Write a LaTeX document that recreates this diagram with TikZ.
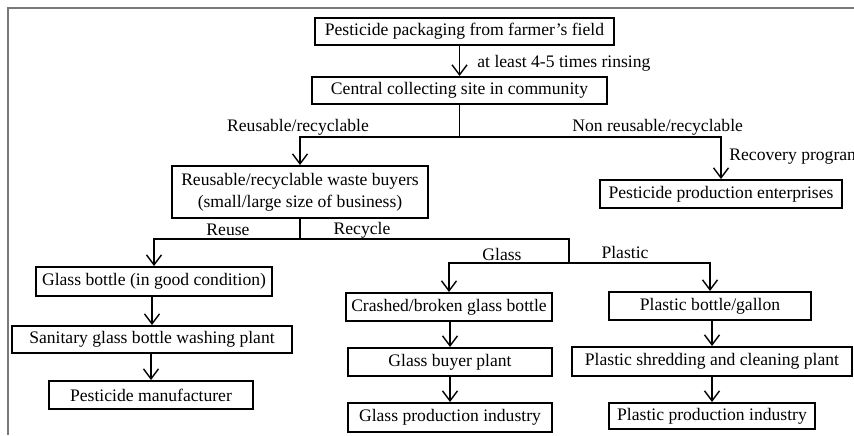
\documentclass[tikz,border=0pt]{standalone}
\usepackage{fontspec}
\setmainfont{Liberation Serif}
\usepackage{tikz}
\usetikzlibrary{arrows.meta, positioning, calc}
\definecolor{framegray}{RGB}{120,120,120}
\tikzset{
  box/.style={rectangle, draw=black, line width=1pt, inner sep=0pt,
    align=center, font=\fontsize{8.8}{11}\selectfont},
  arrow/.style={-{Straight Barb[length=5pt,width=7.5pt]}, line width=0.7pt},
  line/.style={line width=0.7pt},
  lbl/.style={font=\fontsize{8.8}{11}\selectfont, inner sep=0pt}
}

\begin{document}
\begin{tikzpicture}[x=0.5pt, y=-0.5pt]
  \useasboundingbox (0,0) rectangle (854,435);
  \draw[framegray, line width=1pt] (8,435) -- (8,8) -- (854,8);

  % boxes
  \node[box, minimum width=149.5pt, minimum height=13.5pt] (field) at (464.5,31.5) {Pesticide packaging from farmer’s field};
  \node[box, minimum width=147.5pt, minimum height=13.5pt] (central) at (459.5,90.5) {Central collecting site in community};
  \node[box, minimum width=128pt, minimum height=26pt] (buyers) at (300,192) {Reusable/recyclable waste buyers\\(small/large size of business)};
  \node[box, minimum width=121pt, minimum height=14pt] (enterprises) at (721,194) {Pesticide production enterprises};
  \node[box, minimum width=118pt, minimum height=14.5pt] (glassok) at (154,281.5) {Glass bottle (in good condition)};
  \node[box, minimum width=140pt, minimum height=13.5pt] (washing) at (152,339.5) {Sanitary glass bottle washing plant};
  \node[box, minimum width=102pt, minimum height=14pt] (manufacturer) at (151,395) {Pesticide manufacturer};
  \node[box, minimum width=103pt, minimum height=14pt] (crashed) at (449,307) {Crashed/broken glass bottle};
  \node[box, minimum width=102pt, minimum height=14pt] (glassbuyer) at (450,362) {Glass buyer plant};
  \node[box, minimum width=102pt, minimum height=14.5pt] (glassprod) at (450,417.5) {Glass production industry};
  \node[box, minimum width=101pt, minimum height=14pt] (plasticbottle) at (710,306) {Plastic bottle/gallon};
  \node[box, minimum width=140pt, minimum height=14.5pt] (shredding) at (712,361.5) {Plastic shredding and cleaning plant};
  \node[box, minimum width=103pt, minimum height=13pt] (plasticprod) at (712,416) {Plastic production industry};

  \coordinate (split1) at (459.5,137);
  \coordinate (split2) at (300,239);
  \coordinate (split3) at (569,239);
  \coordinate (split4) at (569,263);

  % connectors
  \draw[arrow] (field.south -| central.north) -- (central.north);
  \draw[line] (central.south) -- (split1);
  \draw[arrow] (split1) -| (buyers.north);
  \draw[arrow] (split1) -| (enterprises.north);
  \draw[line] (buyers.south) -- (split2);
  \draw[arrow] (split2) -| (glassok.north);
  \draw[line] (split2) -- (split3) -- (split4);
  \draw[arrow] (split4) -| (crashed.north);
  \draw[arrow] (split4) -| (plasticbottle.north);
  \draw[arrow] (glassok.south -| washing.north) -- (washing.north);
  \draw[arrow] (washing.south -| manufacturer.north) -- (manufacturer.north);
  \draw[arrow] (crashed.south -| glassbuyer.north) -- (glassbuyer.north);
  \draw[arrow] (glassbuyer.south) -- (glassprod.north);
  \draw[arrow] (plasticbottle.south -| shredding.north) -- (shredding.north);
  \draw[arrow] (shredding.south) -- (plasticprod.north);

  % labels
  \node[lbl, anchor=west] (rinsing) at (477,63) {at least 4-5 times rinsing};
  \node[lbl] (reusable) at (298,127) {Reusable/recyclable};
  \node[lbl, anchor=west] (nonreusable) at (572,127) {Non reusable/recyclable};
  \node[lbl, anchor=west] (recovery) at (729,157) {Recovery program};
  \node[lbl] (reuse) at (228,230) {Reuse};
  \node[lbl] (recycle) at (362,230) {Recycle};
  \node[lbl] (glass) at (502,254) {Glass};
  \node[lbl] (plastic) at (625,252) {Plastic};
\end{tikzpicture}
\end{document}
